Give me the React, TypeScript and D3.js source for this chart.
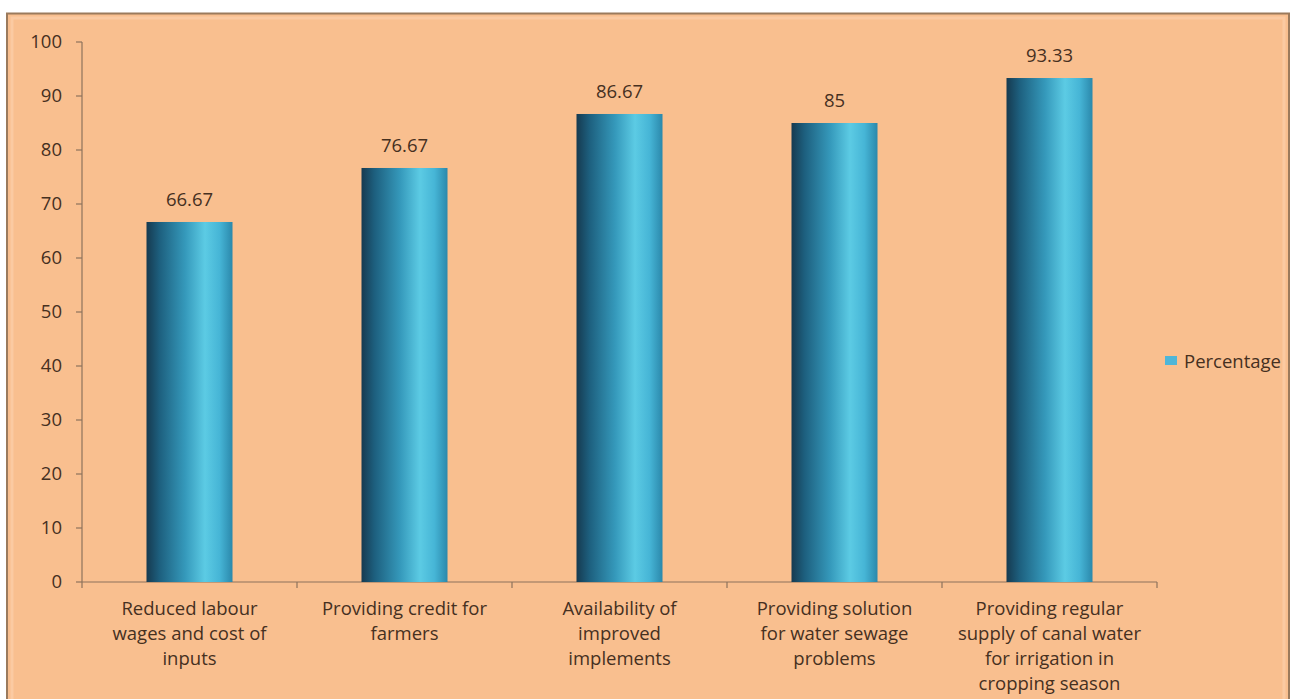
import React from "react";
import * as d3 from "d3";

const categories: string[][] = [
  ["Reduced labour", "wages and cost of", "inputs"],
  ["Providing credit for", "farmers"],
  ["Availability of", "improved", "implements"],
  ["Providing solution", "for water sewage", "problems"],
  ["Providing regular", "supply of canal water", "for irrigation in", "cropping season"],
];
const values: number[] = [66.67, 76.67, 86.67, 85, 93.33];
const valueLabels: string[] = ["66.67", "76.67", "86.67", "85", "93.33"];
const yTicks: number[] = [0, 10, 20, 30, 40, 50, 60, 70, 80, 90, 100];
const seriesName = "Percentage";

const W = 1292;
const H = 699;
const left = 82;
const right = 1157;
const top = 42;
const bottom = 582;
const font = "'Open Sans', 'Noto Sans', sans-serif";
const textColor = "#46301f";
const fs = 18.5;

export default function App() {
  const idx = categories.map((_, i) => String(i));
  const x = d3.scaleBand<string>().domain(idx).range([left, right]).paddingInner(0.6).paddingOuter(0.3);
  const xOuter = d3.scaleBand<string>().domain(idx).range([left, right]);
  const y = d3.scaleLinear().domain([0, 100]).range([bottom, top]);
  const bw = x.bandwidth();

  return (
    <svg width={W} height={H} style={{ position: "absolute", left: 0, top: 0 }} fontFamily={font}>
      <defs>
        <linearGradient id="barGrad" x1="0" x2="1" y1="0" y2="0">
          <stop offset="0%" stopColor="#163a50" />
          <stop offset="15%" stopColor="#1d5f7e" />
          <stop offset="45%" stopColor="#3599bb" />
          <stop offset="68%" stopColor="#5ccbe4" />
          <stop offset="85%" stopColor="#46b5d6" />
          <stop offset="100%" stopColor="#2b88ab" />
        </linearGradient>
      </defs>
      <rect x={0} y={0} width={W} height={H} fill="#ffffff" />
      <rect x={7} y={13.5} width={1282} height={700} fill="#f9bf8f" stroke="#9b7a5c" strokeWidth={2} />
      <rect x={12} y={18} width={1272} height={700} fill="none" stroke="#fbcaa2" strokeWidth={3} />
      {/* y axis */}
      <line x1={left} x2={left} y1={top} y2={bottom} stroke="#8d735c" strokeWidth={1.2} />
      {yTicks.map((t) => (
        <g key={t}>
          <line x1={left - 6} x2={left} y1={y(t)} y2={y(t)} stroke="#8d735c" strokeWidth={1.2} />
          <text x={left - 20} y={y(t)} dy="0.35em" textAnchor="end" fontSize={fs} fill={textColor}>
            {t}
          </text>
        </g>
      ))}
      {/* x axis */}
      <line x1={left} x2={right} y1={bottom} y2={bottom} stroke="#8d735c" strokeWidth={1.2} />
      {idx.map((k) => (
        <line key={"t" + k} x1={(xOuter(k) as number)} x2={(xOuter(k) as number)} y1={bottom} y2={bottom + 6} stroke="#8d735c" strokeWidth={1.2} />
      ))}
      <line x1={right} x2={right} y1={bottom} y2={bottom + 6} stroke="#8d735c" strokeWidth={1.2} />
      {/* bars */}
      {values.map((v, i) => {
        const bx = x(String(i)) as number;
        return (
          <g key={"b" + i}>
            <rect x={bx} y={y(v)} width={bw} height={bottom - y(v)} fill="url(#barGrad)" />
            <text x={bx + bw / 2} y={y(v) - 16} textAnchor="middle" fontSize={fs} fill={textColor}>
              {valueLabels[i]}
            </text>
          </g>
        );
      })}
      {/* category labels */}
      {categories.map((lines, i) => {
        const cx = (xOuter(String(i)) as number) + xOuter.bandwidth() / 2;
        return (
          <text key={"c" + i} x={cx} y={609} textAnchor="middle" fontSize={fs} fill={textColor}>
            {lines.map((l, j) => (
              <tspan key={j} x={cx} dy={j === 0 ? "0.35em" : 25}>
                {l}
              </tspan>
            ))}
          </text>
        );
      })}
      {/* legend */}
      <rect x={1165} y={356} width={12} height={9} fill="#4fb6d8" />
      <text x={1184} y={362} dy="0.35em" fontSize={fs} fill={textColor}>
        {seriesName}
      </text>
    </svg>
  );
}
